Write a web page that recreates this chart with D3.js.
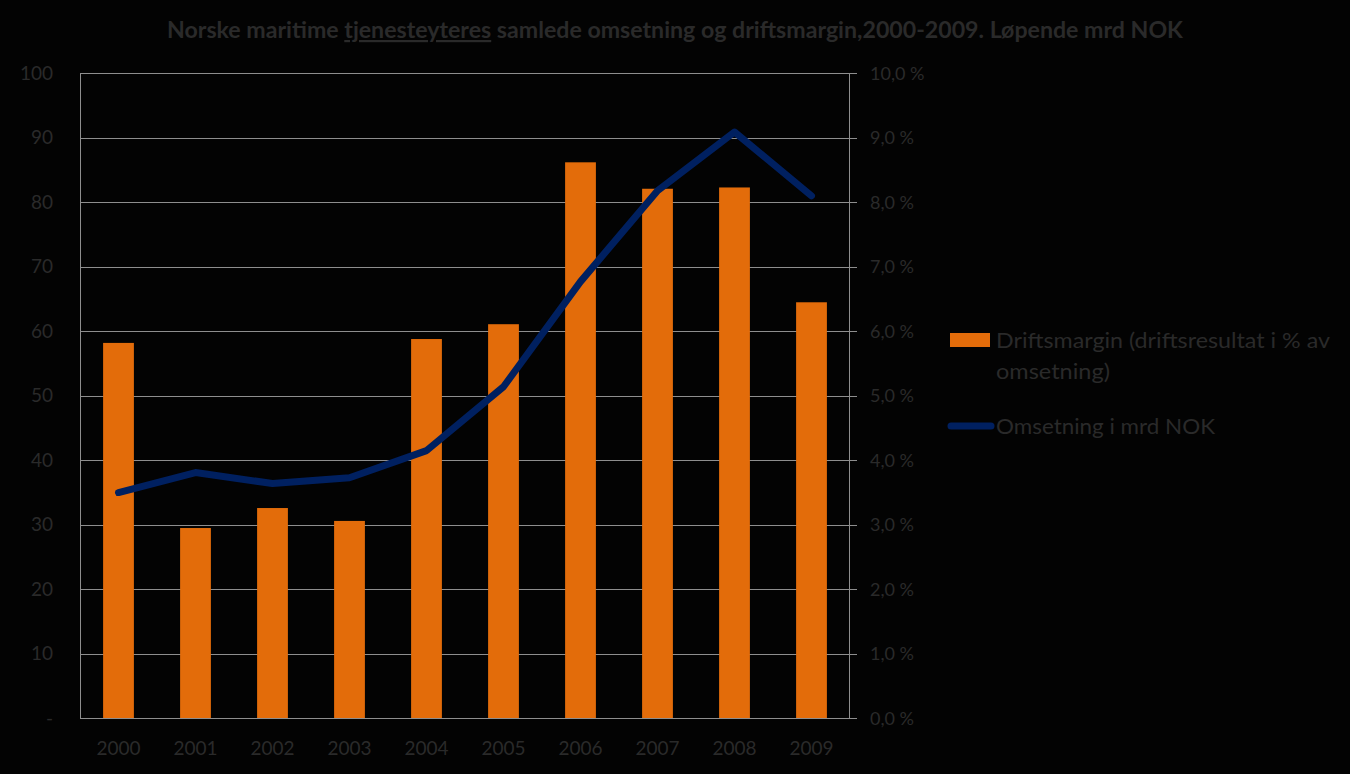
<!DOCTYPE html>
<html><head><meta charset="utf-8">
<script src="https://cdn.jsdelivr.net/npm/d3@7"></script>
<style>
html,body{margin:0;padding:0;background:#030303;}
svg{display:block;}
text{font-family:Lato,"Open Sans",sans-serif;}
</style></head>
<body>
<svg id="c" width="1350" height="774"></svg>
<script>
const years = ["2000","2001","2002","2003","2004","2005","2006","2007","2008","2009"];
const marginPct = [5.82, 2.95, 3.26, 3.06, 5.88, 6.11, 8.62, 8.21, 8.23, 6.45];
const revenue = [35.0, 38.1, 36.4, 37.3, 41.5, 51.4, 67.7, 81.8, 90.9, 81.0];
const leftTicks = [0,10,20,30,40,50,60,70,80,90,100];
const rightTicks = [0,1,2,3,4,5,6,7,8,9,10];
const seriesNames = ["Driftsmargin (driftsresultat i % av", "omsetning)", "Omsetning i mrd NOK"];

const textCol = "#2a2a2a", gridCol = "#8e8e8e", orange = "#e36c0a", navy = "#002060";
const svg = d3.select("#c");
const L = 80, R = 850, T = 73.3, B = 718.3;

const x = d3.scaleBand().domain(years).range([L, R]).padding(0);
const yL = d3.scaleLinear().domain([0,100]).range([B, T]);
const yR = d3.scaleLinear().domain([0,10]).range([B, T]);

// title
const title = svg.append("text").attr("x", 167).attr("y", 38).attr("text-anchor","start")
  .attr("fill", textCol).attr("font-weight","bold").attr("font-size", 22)
  .attr("textLength", 1016).attr("lengthAdjust","spacingAndGlyphs");
title.append("tspan").text("Norske maritime ");
title.append("tspan").attr("text-decoration","underline").text("tjenesteyteres");
title.append("tspan").text(" samlede omsetning og driftsmargin,2000-2009. Løpende mrd NOK");

// gridlines
svg.append("g").selectAll("line").data(leftTicks.slice(1)).join("line")
  .attr("x1", L).attr("x2", R+6).attr("y1", d=>Math.round(yL(d))+0.5).attr("y2", d=>Math.round(yL(d))+0.5)
  .attr("stroke", gridCol).attr("stroke-width",1);

// bars
const bw = x.bandwidth()*0.4;
svg.append("g").selectAll("rect").data(years).join("rect")
  .attr("x", (d)=>x(d)+x.bandwidth()/2-bw/2)
  .attr("width", bw)
  .attr("y", (d,i)=>yR(marginPct[i]))
  .attr("height", (d,i)=>B-yR(marginPct[i]))
  .attr("fill", orange);

// axes lines
svg.append("line").attr("x1",L+0.5).attr("x2",L+0.5).attr("y1",T).attr("y2",B).attr("stroke",gridCol);
svg.append("line").attr("x1",L).attr("x2",R).attr("y1",Math.round(B)+0.5).attr("y2",Math.round(B)+0.5).attr("stroke",gridCol);
svg.append("line").attr("x1",R-0.5).attr("x2",R-0.5).attr("y1",T).attr("y2",B).attr("stroke",gridCol);
svg.append("g").selectAll("line").data(rightTicks).join("line")
  .attr("x1", R).attr("x2", R+7).attr("y1", d=>Math.round(yR(d))+0.5).attr("y2", d=>Math.round(yR(d))+0.5)
  .attr("stroke", gridCol);

// line
const line = d3.line().x((d,i)=>x(years[i])+x.bandwidth()/2).y(d=>yL(d));
svg.append("path").datum(revenue).attr("d", line).attr("fill","none")
  .attr("stroke", navy).attr("stroke-width", 7).attr("stroke-linecap","round").attr("stroke-linejoin","round");

// left labels
svg.append("g").selectAll("text").data(leftTicks).join("text")
  .attr("x", 53).attr("y", d=>yL(d)).attr("dy","0.35em").attr("text-anchor","end")
  .attr("fill", textCol).attr("font-size", 19)
  .text(d=> d===0 ? "-" : d);
// right labels
svg.append("g").selectAll("text").data(rightTicks).join("text")
  .attr("x", 870).attr("y", d=>yR(d)).attr("dy","0.35em").attr("text-anchor","start")
  .attr("fill", textCol).attr("font-size", 18)
  .text(d=> d.toFixed(1).replace(".",",") + " %");
// bottom labels
svg.append("g").selectAll("text").data(years).join("text")
  .attr("x", d=>x(d)+x.bandwidth()/2).attr("y", 748).attr("dy","0.35em").attr("text-anchor","middle")
  .attr("fill", textCol).attr("font-size", 19).text(d=>d);

// legend
const lg = svg.append("g");
lg.append("rect").attr("x",950).attr("y",333).attr("width",40).attr("height",14).attr("fill",orange);
lg.append("text").attr("x",996).attr("y",340).attr("dy","0.35em").attr("fill",textCol).attr("font-size",22)
  .attr("textLength",334).attr("lengthAdjust","spacingAndGlyphs").text(seriesNames[0]);
lg.append("text").attr("x",996).attr("y",371).attr("dy","0.35em").attr("fill",textCol).attr("font-size",22)
  .attr("textLength",114).attr("lengthAdjust","spacingAndGlyphs").text(seriesNames[1]);
lg.append("line").attr("x1",951).attr("x2",991).attr("y1",426).attr("y2",426).attr("stroke",navy).attr("stroke-width",7).attr("stroke-linecap","round");
lg.append("text").attr("x",996).attr("y",426).attr("dy","0.35em").attr("fill",textCol).attr("font-size",22)
  .attr("textLength",219).attr("lengthAdjust","spacingAndGlyphs").text(seriesNames[2]);
</script>
</body></html>
